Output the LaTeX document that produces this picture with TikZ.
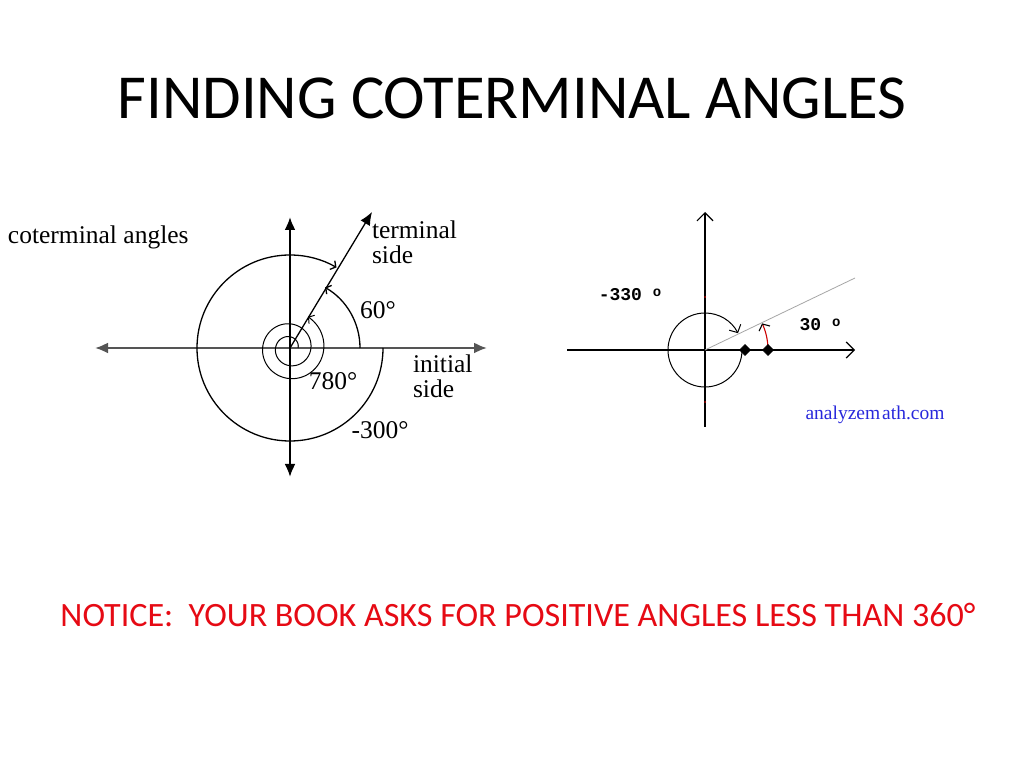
\documentclass[tikz,border=0pt]{standalone}
\usepackage{fontspec}
\setmainfont{Carlito}
\newfontfamily\scanfont{Liberation Serif}
\newfontfamily\monofont{Liberation Mono}
\usepackage{tikz}
\usetikzlibrary{arrows.meta,shapes,positioning,calc}
\definecolor{noticered}{RGB}{230,10,20}
\definecolor{siteblue}{RGB}{40,40,220}
\definecolor{axisgray}{RGB}{85,85,85}

\begin{document}
\begin{tikzpicture}[x=1pt, y=1pt,
    every node/.style={inner sep=0pt, outer sep=0pt},
    lbl/.style={font=\scanfont\fontsize{25.5}{25}\selectfont, align=left},
    monolbl/.style={font=\monofont\bfseries\fontsize{18}{20}\selectfont},
    axis/.style={line width=2.2pt},
    curve/.style={line width=1.3pt},
    thin curve/.style={line width=1pt},
    bigtip/.style={-{Latex[length=13pt, width=11pt]}},
    bigtips/.style={{Latex[length=13pt, width=11pt]}-{Latex[length=13pt, width=11pt]}},
    bartip/.style={-{Straight Barb[length=4pt, width=10pt]}},
    opentip/.style={-{Straight Barb[length=8pt, width=16pt]}},
    dot/.style={draw, diamond, fill=black, minimum size=11pt}]
\useasboundingbox (0,0) rectangle (1024,768);
\fill[white] (0,0) rectangle (1024,768);

% title
\node (Title) at (512,670) {\fontsize{62.6}{70}\selectfont FINDING COTERMINAL ANGLES};

% left picture
\coordinate (O1) at (290,420);
\coordinate (Left) at (95,420);
\coordinate (Right) at (487,420);
\coordinate (Top) at (290,551);
\coordinate (Bottom) at (290,291);
\coordinate (Term) at (372,556);
\draw[axis, axisgray, bigtips] (Left) -- (Right);
\draw[axis, bigtips] (Bottom) -- (Top);
\draw[curve, bigtip] (O1) -- (Term);
\draw[curve, bartip] ($(O1)+(70,0)$) arc (0:60:70);
\draw[curve, bartip] ($(O1)+(93,0)$) arc (0:-300:93);
\draw[thin curve, bartip, shift={(O1)}] plot[domain=0:780, samples=260, smooth]
    ({(8+\x/780*28)*cos(\x)}, {(8+\x/780*28)*sin(\x)});

\node[lbl, anchor=west] (Coterm) at (8,531) {coterminal angles};
\node[lbl, anchor=north west] (TermSide) at (372,547) {terminal\\side};
\node[lbl] (Sixty) at (378,458) {60°};
\node[lbl, anchor=north west] (InitSide) at (413,413) {initial\\side};
\node[lbl] (SevenEighty) at (333,387) {780°};
\node[lbl] (MinusThreeHundred) at (380,338) {-300°};

% right picture
\coordinate (O2) at (705,418);
\coordinate (RLeft) at (567,418);
\coordinate (RRight) at (855,418);
\coordinate (RTop) at (705,556);
\coordinate (RBottom) at (705,341);
\coordinate (Ray) at (855,490);
\draw[line width=1.2pt, opentip] (RLeft) -- (RRight);
\draw[line width=1.2pt, opentip] (RBottom) -- (RTop);
\draw[line width=0.8pt, gray!70] (O2) -- (Ray);
\draw[line width=1pt, -{Straight Barb[length=6pt, width=13pt]}] ($(O2)+(37,0)$) arc (0:-333:37);
\draw[line width=1.1pt, red!80!black, -{Straight Barb[length=5pt, width=12pt, color=black]}] ($(O2)+(63,0)$) arc (0:25:63);
\fill[red!70!black] (705,471) circle (1);
\fill[red!70!black] (705,366) circle (1);
\node[dot] (D1) at (745,418) {};
\node[dot] (D2) at (768,418) {};

\node[monolbl] (Neg330) at (630,473) {-330 \raisebox{4pt}{\fontsize{14}{14}\selectfont o}};
\node[monolbl] (Pos30) at (820,443) {30 \raisebox{4pt}{\fontsize{14}{14}\selectfont o}};
\node[font=\scanfont\fontsize{19.5}{20}\selectfont, text=siteblue] (Site) at (875,353) {analyzem\kern2pt ath.com};

% notice
\node[text=noticered] (Notice) at (518,153) {\fontsize{34.1}{40}\selectfont NOTICE:\ \ YOUR BOOK ASKS FOR POSITIVE ANGLES LESS THAN 360°};
\end{tikzpicture}
\end{document}
